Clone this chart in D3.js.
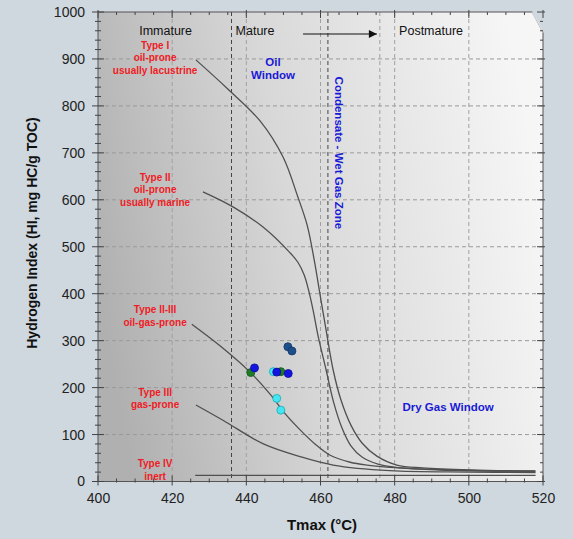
<!DOCTYPE html>
<html>
<head>
<meta charset="utf-8">
<script src="https://cdn.jsdelivr.net/npm/d3@7"></script>
<style>
  html, body { margin: 0; padding: 0; background: #cfd7df; }
  svg { display: block; font-family: "Liberation Sans", Arial, sans-serif; }
</style>
</head>
<body>
<svg id="chart" width="573" height="539"></svg>
<script>
// kerogen type curves (Tmax °C, HI)
const typeI = [[426.4,898],[435,836],[443.7,768],[449.9,691],[453.9,606],[456.4,546],[458.3,472],[459.9,397],[461.5,323],[463.4,238],[465.5,174],[468.2,120],[471.2,82],[475.2,54],[480.6,35],[487.6,29],[500.3,24.5],[517.9,22]];
const typeII = [[428.3,617],[436.4,585],[444.5,542],[451.8,487],[453.9,467],[455.6,440],[456.9,404],[458,365],[459.3,312],[461.5,238],[463.6,167],[465.8,114],[468.2,76],[471.2,52],[475.5,37],[481.4,29],[492.2,24.5],[517.9,22]];
const typeIIIII = [[425.3,335],[432.9,289],[441,233],[446.4,186],[450.5,144],[454.5,110],[458.5,80],[462.6,56],[468,41],[472.5,35],[481.4,29],[497.6,24],[518,22]];
const typeIII = [[426.4,163],[433.8,130],[444.6,80],[454.5,53],[463.4,35],[478.7,23],[500,20],[518,19]];
const typeIV = [[426.2,13],[518,13]];

// samples
const sampleTmax = [451.2, 452.3, 441.2, 442.2, 447.3, 449.3, 448.2, 451.3, 448.2, 449.3];
const sampleHI   = [287,   278,   232,   242,   234,   234,   233,   230,   177,   152];
const sampleGroup = ["navy","navy","green","blue","cyan","green","blue","blue","cyan","cyan"];

const xTicks = [400, 420, 440, 460, 480, 500, 520];
const yTicks = [0, 100, 200, 300, 400, 500, 600, 700, 800, 900, 1000];
const zoneBounds = [436, 462];

const typeLabels = [
  ["Type I", "oil-prone", "usually lacustrine"],
  ["Type II", "oil-prone", "usually marine"],
  ["Type II-III", "oil-gas-prone"],
  ["Type III", "gas-prone"],
  ["Type IV", "inert"]
];
const maturityLabels = ["Immature", "Mature", "Postmature"];

const svg = d3.select("#chart");
const margin = { top: 12, left: 98 };
const width = 445, height = 469.5;

const x = d3.scaleLinear().domain([400, 520]).range([0, width]);
const y = d3.scaleLinear().domain([0, 1000]).range([height, 0]);

const defs = svg.append("defs");
const grad = defs.append("linearGradient").attr("id", "bg")
  .attr("x1", "0%").attr("y1", "60%").attr("x2", "100%").attr("y2", "40%");
grad.append("stop").attr("offset", "0%").attr("stop-color", "#b0b0b0");
grad.append("stop").attr("offset", "45%").attr("stop-color", "#d8d8d8");
grad.append("stop").attr("offset", "100%").attr("stop-color", "#f6f6f6");

defs.append("marker").attr("id", "arrow")
  .attr("viewBox", "0 0 10 10").attr("refX", 10).attr("refY", 5)
  .attr("markerWidth", 12).attr("markerHeight", 8)
  .attr("markerUnits", "userSpaceOnUse").attr("orient", "auto")
  .append("path").attr("d", "M0,0 L10,5 L0,10 Z").attr("fill", "#111");

const g = svg.append("g").attr("transform", `translate(${margin.left},${margin.top})`);

g.append("rect").attr("width", width).attr("height", height).attr("fill", "url(#bg)");

// grid
g.selectAll(".hgrid").data(yTicks.slice(1, -1)).enter().append("line")
  .attr("x1", 0).attr("x2", width).attr("y1", d => y(d)).attr("y2", d => y(d))
  .attr("stroke", "#9a9a9a").attr("stroke-dasharray", "4,3");
g.selectAll(".vgrid").data([420, 440, 460, 476, 480, 500]).enter().append("line")
  .attr("y1", 0).attr("y2", height).attr("x1", d => x(d)).attr("x2", d => x(d))
  .attr("stroke", "#a0a0a0").attr("stroke-dasharray", "4,3");
g.selectAll(".zone").data(zoneBounds).enter().append("line")
  .attr("y1", 0).attr("y2", height).attr("x1", d => x(d)).attr("x2", d => x(d))
  .attr("stroke", "#444").attr("stroke-dasharray", "4,3");

// curves
const line = d3.line().x(d => x(d[0])).y(d => y(d[1])).curve(d3.curveCatmullRom.alpha(0.5));
g.selectAll(".curve").data([typeI, typeII, typeIIIII, typeIII, typeIV]).enter().append("path")
  .attr("d", line).attr("fill", "none").attr("stroke", "#505050").attr("stroke-width", 1.3);

// red type labels
const labelTop = [922, 641, 358, 183, 30];
typeLabels.forEach((lines, i) => {
  lines.forEach((t, j) => {
    g.append("text")
      .attr("x", x(415.4)).attr("y", y(labelTop[i]) + j * 12.6)
      .attr("text-anchor", "middle")
      .style("font-size", "10px").style("font-weight", "bold")
      .style("fill", "#ee1c25").text(t);
  });
});

// maturity labels
const matStart = [411.1, 437.1, 481.2];
maturityLabels.forEach((t, i) => {
  g.append("text").attr("x", x(matStart[i])).attr("y", 22.5)
    .style("font-size", "12.5px").style("fill", "#111").text(t);
});
g.append("line").attr("x1", x(455.3)).attr("x2", x(475.2)).attr("y1", 22).attr("y2", 22)
  .attr("stroke", "#111").attr("stroke-width", 1.2).attr("marker-end", "url(#arrow)");

// blue zone labels
const blue = "#1a1ad6";
g.append("text").attr("x", x(447.2)).attr("y", y(886)).attr("text-anchor", "middle")
  .style("font-size", "11.5px").style("font-weight", "bold").style("fill", blue).text("Oil");
g.append("text").attr("x", x(447.2)).attr("y", y(858)).attr("text-anchor", "middle")
  .style("font-size", "11.5px").style("font-weight", "bold").style("fill", blue).text("Window");
g.append("text")
  .attr("transform", `translate(${x(465) - 4},${y(700)}) rotate(90)`)
  .attr("text-anchor", "middle")
  .style("font-size", "11.5px").style("font-weight", "bold").style("fill", blue)
  .text("Condensate - Wet Gas Zone");
g.append("text").attr("x", x(494.4)).attr("y", y(150)).attr("text-anchor", "middle")
  .style("font-size", "11.5px").style("font-weight", "bold").style("fill", blue).text("Dry Gas Window");

// samples
const fillC = { navy: "#1d4f8c", blue: "#1414e0", green: "#1e7d24", cyan: "#44e6f2" };
const strokeC = { navy: "#123766", blue: "#0b0b9a", green: "#135a18", cyan: "#1aa9b8" };
g.selectAll(".pt").data(sampleTmax).enter().append("circle")
  .attr("cx", d => x(d)).attr("cy", (d, i) => y(sampleHI[i])).attr("r", 4)
  .attr("fill", (d, i) => fillC[sampleGroup[i]])
  .attr("stroke", (d, i) => strokeC[sampleGroup[i]]).attr("stroke-width", 0.8);

// frame
g.append("rect").attr("width", width).attr("height", height)
  .attr("fill", "none").attr("stroke", "#555").attr("stroke-width", 1);

// page curl at top-right
g.append("path")
  .attr("d", `M${width - 11},-1 L${width + 1},-1 L${width + 1},${21} Z`)
  .attr("fill", "#cfd7df");
g.append("path")
  .attr("d", `M${width - 11},0 L${width},21`)
  .attr("stroke", "#c4c4c4").attr("fill", "none");

// ticks crossing the frame
const majorY = yTicks, minorY = d3.range(0, 1001, 20);
const majorX = xTicks, minorX = d3.range(400, 521, 5);
const tickLine = (sel, x1, x2, y1, y2) => sel.append("line")
  .attr("x1", x1).attr("x2", x2).attr("y1", y1).attr("y2", y2)
  .attr("stroke", "#444").attr("stroke-width", 1);
minorY.forEach(v => {
  const big = majorY.includes(v), s = big ? 6 : 3;
  tickLine(g, -s, s, y(v), y(v));
  tickLine(g, width - s, width + (big ? 2 : 0), y(v), y(v));
});
minorX.forEach(v => {
  const big = majorX.includes(v), s = big ? 6 : 3;
  tickLine(g, x(v), x(v), height - s, height + (big ? 4 : 1));
  tickLine(g, x(v), x(v), -(big ? 2 : 0), s);
});

// tick labels
g.append("g").call(d3.axisLeft(y).tickValues(yTicks).tickFormat(d3.format("d")).tickSize(0).tickPadding(13))
  .call(a => a.select(".domain").remove())
  .selectAll("text").style("font-size", "14px").style("fill", "#222")
  .style("font-family", "'Liberation Sans', Arial, sans-serif");
g.append("g").attr("transform", `translate(0,${height})`)
  .call(d3.axisBottom(x).tickValues(xTicks).tickSize(0).tickPadding(12))
  .call(a => a.select(".domain").remove())
  .selectAll("text").style("font-size", "14px").style("fill", "#222")
  .style("font-family", "'Liberation Sans', Arial, sans-serif");

// axis titles
svg.append("text").attr("x", 322).attr("y", 530).attr("text-anchor", "middle")
  .style("font-size", "15px").style("font-weight", "bold").style("fill", "#111").text("Tmax (°C)");
svg.append("text").attr("transform", "translate(37,233) rotate(-90)").attr("text-anchor", "middle")
  .style("font-size", "14px").style("font-weight", "bold").style("fill", "#111")
  .text("Hydrogen Index (HI, mg HC/g TOC)");
</script>
</body>
</html>
